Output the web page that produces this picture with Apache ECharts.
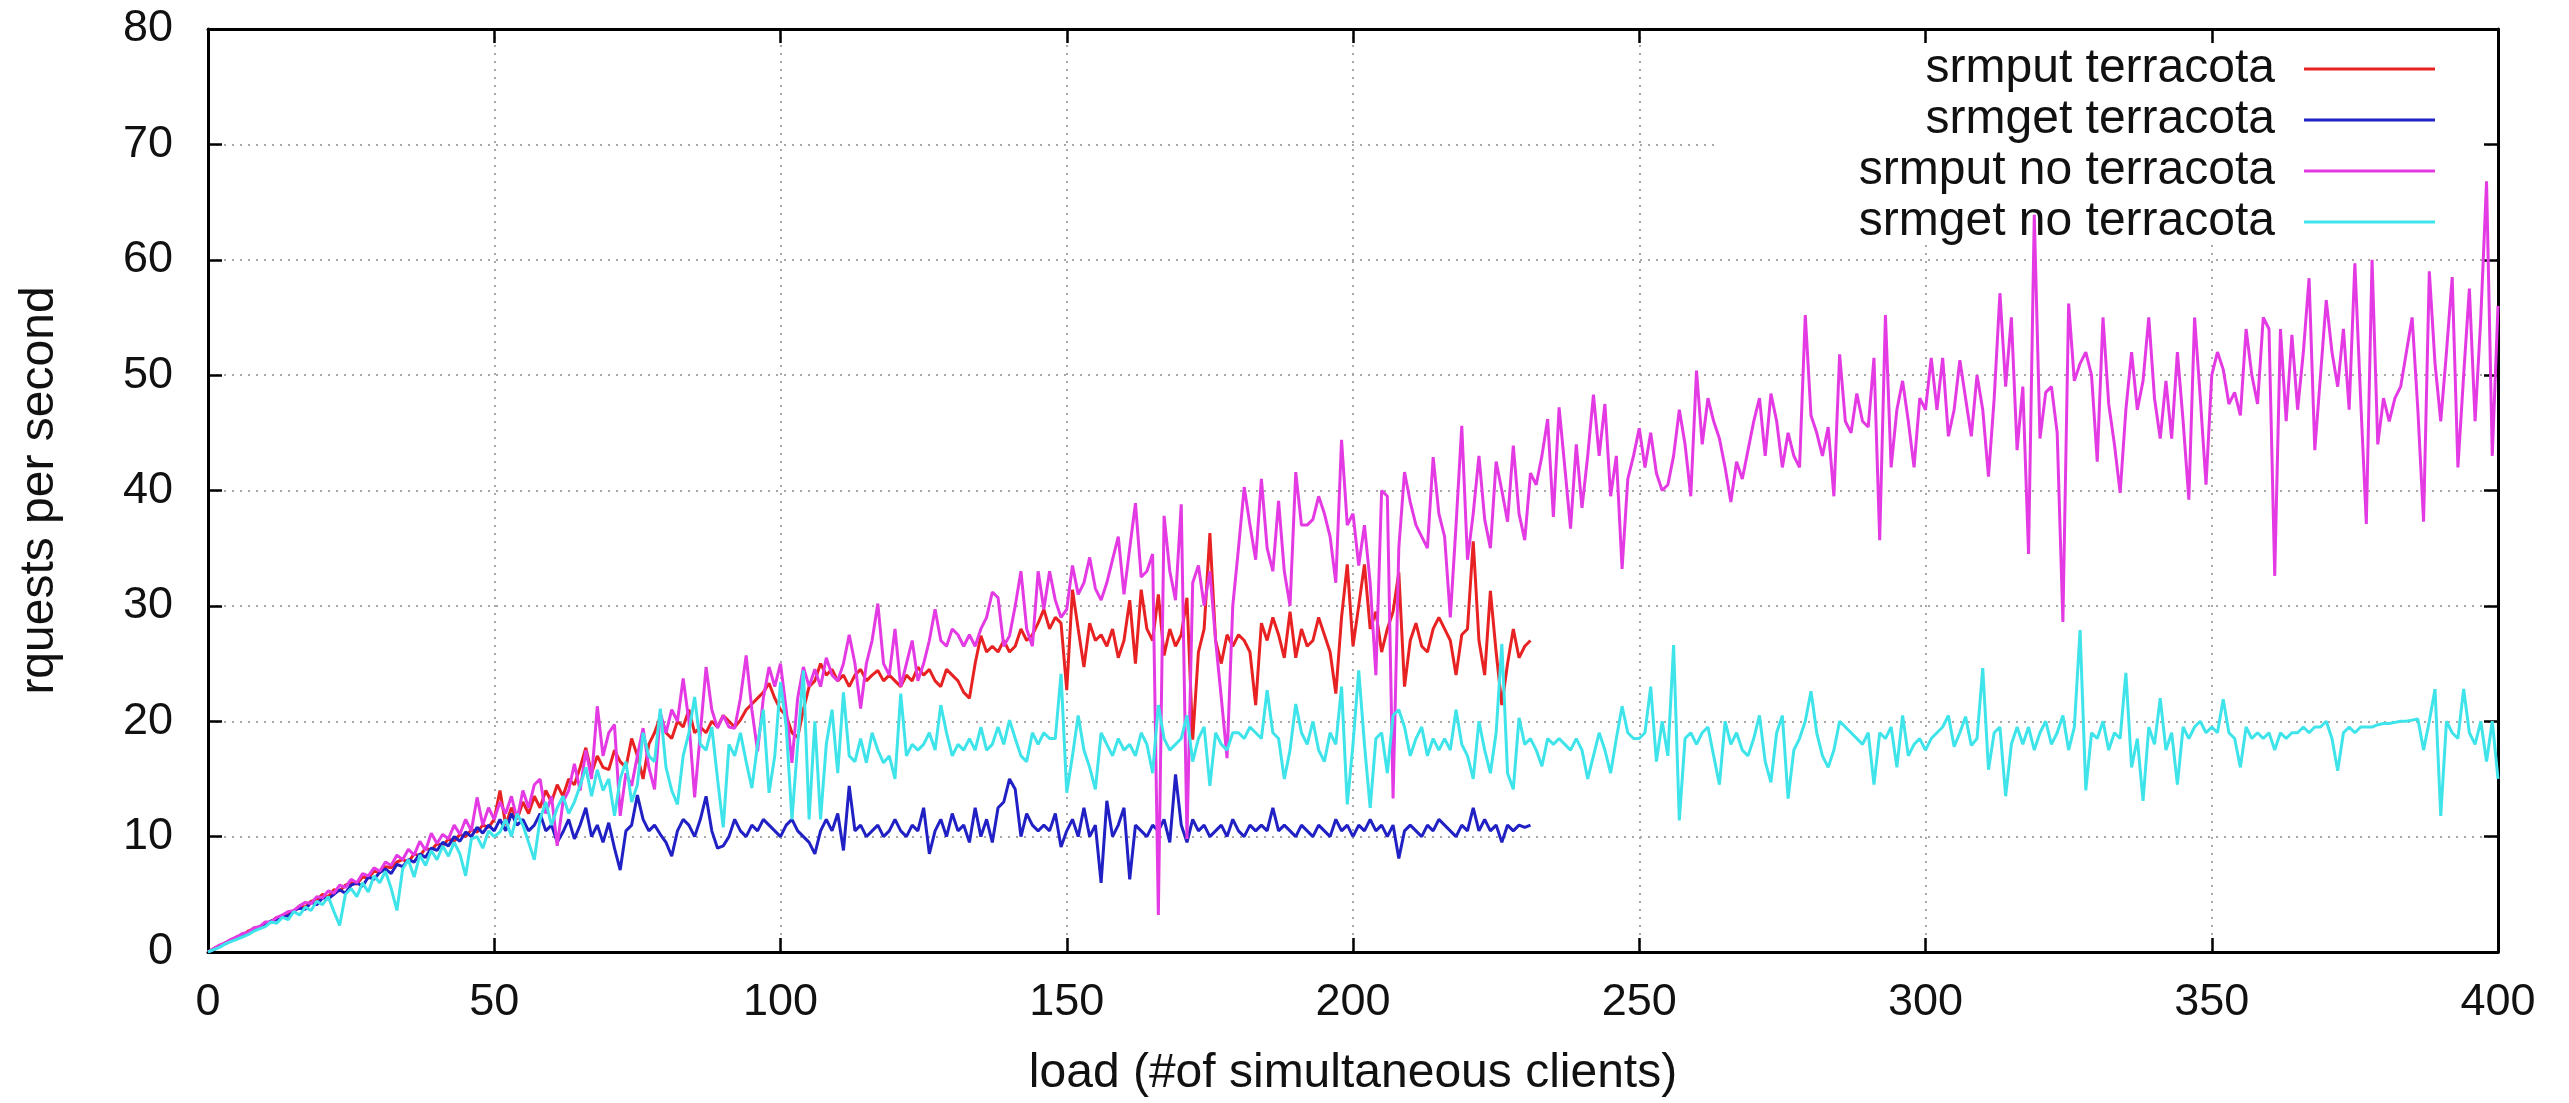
<!DOCTYPE html>
<html>
<head>
<meta charset="utf-8">
<script src="https://cdn.jsdelivr.net/npm/echarts@6/dist/echarts.min.js"></script>
<style>
  html, body { margin: 0; padding: 0; background: #fff; }
  #chart { width: 2569px; height: 1103px; }
</style>
</head>
<body>
<div id="chart"></div>
<script>
// requests per second, one value per load step (load = index)
const putTerracota = [
  0, 0.3, 0.5, 0.8, 1, 1.3, 1.4, 1.8, 2, 2.1,
  2.4, 2.6, 3, 3, 3.4, 3.5, 4, 3.9, 4.4, 4.5,
  5, 4.8, 5.4, 5.3, 5.8, 6, 5.9, 6.5, 6.4, 7,
  6.9, 7.4, 7.3, 7.8, 8, 7.8, 8.5, 8.3, 9, 8.8,
  9.4, 9.2, 9.8, 9.6, 10.2, 10, 10.6, 10.4, 11, 10.8,
  11.5, 14, 11, 12.5, 11.5, 13, 12, 13.5, 12.5, 14,
  13, 14.5, 13.5, 15, 14.5, 16, 17.7, 15.5, 17, 16,
  15.8, 17.5, 16.5, 16, 18.5, 17, 15, 18, 19, 20.4,
  19, 18.5, 20, 19.5, 21, 19, 19.5, 19, 20, 19.5,
  20.5, 20, 19.5, 20.1, 21, 21.5, 22, 22.5, 23.3, 22,
  21, 20.5, 19, 18.6, 21, 23, 23.5, 25, 24, 24.5,
  23.5, 24, 23, 24, 24.5, 23.5, 24, 24.4, 23.5, 24,
  23.5, 23, 24, 23.5, 24.7, 24, 24.5, 23.5, 23, 24.5,
  24, 23.5, 22.5, 22, 25, 27.4, 26, 26.5, 26, 27,
  26, 26.5, 28, 27, 27.5, 28.5, 29.7, 28, 29, 28.5,
  22.7, 31.4, 28, 24.7, 28.5, 27, 27.5, 26.5, 28, 25.5,
  27, 30.5, 25, 31.4, 28, 27, 31, 25.7, 28, 26.5,
  27.5, 30.7, 18.4, 26, 28, 36.3, 27, 25, 27.5, 26.5,
  27.5, 27, 26, 21.4, 28.5, 27, 29, 27.5, 25.5, 29.5,
  25.5, 28, 26.5, 27, 29, 27.5, 26, 22.4, 29, 33.6,
  26.5, 30, 33.6, 28, 29.5, 26, 28, 29.5, 32.9, 23,
  27, 28.5, 26.5, 26, 28, 29, 28, 27, 24, 27.5,
  28, 35.6, 27, 24, 31.3, 26, 21.4, 25, 28, 25.5,
  26.5, 27
];

const getTerracota = [
  0, 0.2, 0.5, 0.7, 1, 1.2, 1.5, 1.6, 2, 2.2,
  2.3, 2.7, 2.8, 3.2, 3.1, 3.6, 3.8, 3.7, 4.3, 4.1,
  4.7, 4.6, 5, 5.4, 5.1, 5.8, 6, 5.7, 6.5, 6.3,
  6.9, 7.2, 6.8, 7.6, 7.4, 8, 7.8, 8.5, 8.2, 9,
  8.8, 9.5, 9.2, 10, 9.6, 10.4, 10, 10.8, 10.3, 11,
  10.5, 11.5, 10.5, 12, 11, 11.5, 10.5, 11, 12, 10.5,
  11, 9.5, 10.4, 11.5, 9.8, 11, 12.5, 10, 11, 9.5,
  11.2, 9, 7.1, 10.5, 11, 13.6, 11.5, 10.5, 11, 10.2,
  9.5, 8.3, 10.5, 11.5, 11, 10, 11.5, 13.5, 10.5, 9,
  9.2, 10, 11.5, 10.5, 10, 11, 10.5, 11.5, 11, 10.5,
  10, 11, 11.5, 10.5, 10, 9.5, 8.5, 10.5, 11.5, 10.5,
  12, 8.8, 14.4, 10.5, 11, 10, 10.5, 11, 10, 10.5,
  11.5, 10.5, 10, 11, 10.5, 12.5, 8.5, 10.5, 11.5, 10,
  12, 10.5, 11, 9.5, 12.5, 10, 11.5, 9.5, 12.5, 13,
  15, 14.1, 10, 12, 11, 10.5, 11, 10.5, 12, 9.1,
  10.5, 11.5, 10, 12.5, 10, 11, 6, 13.1, 10, 11,
  12.5, 6.3, 11, 10.5, 10, 11, 10.5, 11.5, 9.5, 15.4,
  11, 9.5, 11.5, 10.5, 11, 10, 10.5, 11, 10, 11.5,
  10.5, 10, 11, 10.5, 11, 10.5, 12.5, 10.5, 11, 10.5,
  10, 11, 10.5, 10, 11, 10.5, 10, 11.5, 10.5, 11,
  10, 11, 10.5, 11.5, 10.5, 11, 10, 11, 8.1, 10.5,
  11, 10.5, 10, 11, 10.5, 11.5, 11, 10.5, 10, 11,
  10.5, 12.5, 10.5, 11.5, 10.5, 11, 9.5, 11, 10.5, 11,
  10.8, 11
];

const putNoTerracota = [
  0, 0.3, 0.6, 0.8, 1.1, 1.3, 1.6, 1.7, 2.1, 2.2,
  2.6, 2.6, 3, 3.2, 3.5, 3.6, 4, 4.3, 4.2, 4.8,
  4.7, 5.3, 5.1, 5.8, 5.6, 6.3, 6, 6.8, 6.6, 7.3,
  7, 7.8, 7.5, 8.4, 8, 8.9, 8.4, 9.6, 8.8, 10.3,
  9.4, 10.2, 9.8, 11, 10.2, 11.5, 10.5, 13.4, 11, 12.5,
  11.5, 13, 12, 13.5, 11.5, 14, 12.5, 14.5, 15, 12,
  13.5, 9.2, 13, 14, 16.3, 14, 17.5, 15, 21.3, 17,
  19, 19.7, 11.8, 15.5, 14.4, 17, 19.4, 16, 14.1, 20.7,
  19, 21, 20, 23.7, 20, 13.4, 19, 24.7, 21, 19.4,
  20.5, 19.5, 19.4, 22, 25.7, 21, 17.4, 22, 24.7, 23,
  25, 21, 16.4, 22, 24.7, 23, 24.5, 23, 25.5, 24,
  23.5, 25, 27.5, 25, 21.1, 25, 27, 30.2, 25, 24,
  28, 23, 25, 27, 23.5, 25, 27, 29.7, 27, 26.5,
  28, 27.5, 26.5, 27.5, 26.5, 28, 29, 31.2, 30.7, 26.5,
  27.4, 30, 33, 28, 26.5, 33, 29.7, 33, 30.5, 29,
  29.7, 33.5, 31, 32, 34.2, 31.5, 30.5, 32, 34, 36,
  31, 35, 38.9, 32.5, 33, 34.5, 3.2, 37.8, 33, 30.5,
  38.8, 9.8, 32, 33.5, 30, 33, 27, 22, 16.8, 30,
  35, 40.3, 37, 34, 41, 35, 33, 39.1, 33, 30,
  41.6, 37, 37, 37.5, 39.5, 38, 36, 32, 44.4, 37,
  38, 33.5, 37, 32, 24, 40, 39.5, 13.3, 35, 41.6,
  39, 37, 36, 35, 42.9, 38, 36, 29, 37, 45.6,
  34, 38, 43, 37.5, 35, 42.5, 40, 37.3, 43.9, 38,
  35.7, 41.5, 40.5, 43, 46.2, 37.7, 47.2, 42, 36.7, 44,
  38.5, 43, 48.3, 43, 47.5, 39.5, 43, 33.2, 41, 43,
  45.4, 42, 45, 41.5, 40, 40.5, 43, 47, 44, 39.5,
  50.4, 44, 48, 46, 44.5, 42, 39, 42.5, 41, 43.5,
  46, 48, 43, 48.4, 46, 42, 45, 43, 42, 55.2,
  46.5, 45, 43, 45.5, 39.5, 51.8, 46, 45, 48.4, 46,
  45.5, 51.5, 35.7, 55.2, 42, 47, 49.5, 46, 42, 48,
  47, 51.5, 47, 51.5, 44.7, 47, 51.3, 48, 44.7, 50,
  47, 41.2, 48, 57.1, 49, 55, 43.5, 49, 34.5, 63.9,
  44.5, 48.5, 49, 45, 28.6, 56.2, 49.5, 51, 52, 50,
  42.5, 55, 47.5, 44, 39.8, 47, 52, 47, 49.5, 55,
  48, 44.5, 49.5, 44.5, 52, 46, 39.2, 55, 48, 40.5,
  50, 52, 50.5, 47.5, 48.5, 46.5, 54, 50, 47.5, 55,
  54, 32.6, 54, 46, 53.5, 47, 52, 58.4, 43.5, 50,
  56.5, 52, 49, 54, 47, 59.7, 48, 37.1, 60, 44,
  48, 46, 48, 49, 52, 55, 47, 37.3, 59, 51,
  46, 52, 58.5, 42, 50, 57.5, 46, 55, 66.8, 43,
  56
];

const getNoTerracota = [
  0, 0.2, 0.4, 0.7, 0.9, 1.1, 1.3, 1.5, 1.8, 2,
  2.2, 2.6, 2.5, 3, 2.8, 3.5, 3.2, 3.9, 3.6, 4.4,
  4.1, 4.8, 3.5, 2.3, 5, 5.5, 4.8, 6, 5.2, 6.6,
  6, 7, 5.5, 3.6, 7.2, 8, 6.5, 8.4, 7.5, 8.8,
  8, 9.2, 8.3, 9.5, 8.5, 6.6, 9.8, 10, 9, 10.5,
  10, 10.4, 11.5, 10, 12, 11, 9.5, 8, 11.5, 13,
  11, 12.5, 13.5, 12, 13, 14.4, 16, 13.5, 15.8, 14,
  15, 11.8, 15, 16.5, 13, 14.5, 19, 17, 16.5, 21.1,
  16, 14, 12.8, 17, 19, 22.1, 18, 17.5, 19.5, 15,
  10.8, 18, 17, 19, 16.5, 14.2, 18, 21, 13.8, 17,
  23.4, 19.5, 11.5, 18, 24.4, 11.5, 20, 11.5, 18, 21,
  15.5, 22.5, 17, 16.5, 18.5, 16.4, 19, 17.5, 16.4, 17,
  15, 22.4, 17, 18, 17.5, 18, 19, 17.5, 21.4, 19,
  17, 18, 17.5, 18.5, 17.5, 19.5, 17.5, 18, 19.5, 18,
  20.1, 18.5, 17, 16.5, 19, 18, 19, 18.5, 18.5, 24.1,
  13.8, 17, 20.5, 17.5, 16, 14.1, 19, 18, 17, 18.5,
  17.5, 18, 17, 19, 18, 15.5, 21.4, 18.5, 17.5, 18,
  18.5, 20.5, 16.5, 18.5, 19.5, 14.4, 19, 18, 17.5, 19,
  19, 18.5, 19.5, 19, 18.5, 22.7, 19, 18.5, 15, 17.5,
  21.5, 19, 18, 20, 17.5, 16.5, 19, 18, 23, 12.8,
  18, 24.4, 18, 12.5, 18.5, 19, 15.5, 20.5, 21, 19.5,
  17, 18.5, 19.5, 17, 18.5, 17.5, 18.5, 17.5, 21, 18,
  17, 15, 20, 17.5, 15.5, 19, 26.7, 15.5, 14.1, 20.3,
  18, 18.5, 17.5, 16.1, 18.5, 18, 18.5, 18, 17.5, 18.5,
  17.5, 15, 17, 19, 17.5, 15.5, 18.5, 21.3, 19, 18.5,
  18.5, 19, 23, 16.5, 20, 17, 26.6, 11.4, 18.5, 19,
  18, 19, 19.5, 17, 14.5, 20, 18, 19, 17.5, 17,
  18.5, 20.5, 16.5, 14.7, 19, 20.5, 13.3, 17.5, 18.5, 20,
  22.6, 19, 17, 16, 17.5, 20, 19.5, 19, 18.5, 18,
  19, 14.5, 19, 18.5, 19.5, 16, 20.5, 17, 18, 18.5,
  17.5, 18.5, 19, 19.5, 20.5, 17.8, 19, 20.4, 17.9, 18.5,
  24.6, 15.8, 19, 19.5, 13.5, 18, 19.5, 18, 19.5, 17.5,
  19, 20, 18, 19, 20.5, 17.5, 19.5, 27.9, 14, 19,
  18.5, 20, 17.5, 19, 18.5, 24.2, 16, 18.5, 13.1, 19.5,
  18, 22, 17.5, 19, 14.5, 19.5, 18.5, 19.5, 20, 19,
  19.5, 19, 21.9, 19, 18.5, 16, 19.5, 18.5, 19, 18.5,
  19, 17.5, 19, 18.5, 19, 19, 19.5, 19, 19.5, 19.5,
  20, 18.5, 15.7, 19, 19.5, 19, 19.5, 19.5, 19.5, 19.7,
  19.8, 19.8, 19.9, 20, 20, 20.1, 20.2, 17.5, 20, 22.8,
  11.8, 20, 19, 18.5, 22.8, 19, 18, 20, 16.5, 20,
  15
];

const seriesNames = ['srmput terracota', 'srmget terracota', 'srmput no terracota', 'srmget no terracota'];
const seriesColors = ['#e82222', '#2020c4', '#e43ae4', '#3ee4ea'];
const loadTicks = [0, 50, 100, 150, 200, 250, 300, 350, 400];
const rateTicks = [0, 10, 20, 30, 40, 50, 60, 70, 80];

const font = 'Liberation Sans';
const tickText = { fontFamily: font, fontSize: 45, color: '#111' };
const titleText = { fontFamily: font, fontSize: 48, color: '#111' };

function toPoints(values) {
  return values.map((v, i) => [i, v]);
}

const allValues = [putTerracota, getTerracota, putNoTerracota, getNoTerracota];

const chart = echarts.init(document.getElementById('chart'), null, { renderer: 'canvas' });

const frameLine = { show: true, onZero: false, lineStyle: { color: '#000', width: 3 } };
const tickIn = { show: true, inside: true, length: 14, lineStyle: { color: '#000', width: 2.5 } };
const gridDots = { show: true, lineStyle: { color: '#a8a8a8', width: 2, type: [2, 6] } };

const xRange = { min: loadTicks[0], max: loadTicks[loadTicks.length - 1], interval: loadTicks[1] - loadTicks[0] };
const yRange = { min: rateTicks[0], max: rateTicks[rateTicks.length - 1], interval: rateTicks[1] - rateTicks[0] };

chart.setOption({
  animation: false,
  backgroundColor: '#fff',
  grid: { left: 208, right: 71, top: 29, bottom: 150, show: false },
  xAxis: [{
    type: 'value', position: 'bottom', ...xRange,
    axisLine: frameLine,
    axisTick: tickIn,
    axisLabel: { ...tickText, margin: 28 },
    splitLine: gridDots,
    name: 'load (#of simultaneous clients)',
    nameLocation: 'middle',
    nameGap: 98,
    nameTextStyle: titleText
  }, {
    type: 'value', position: 'top', ...xRange,
    axisLine: frameLine,
    axisTick: tickIn,
    axisLabel: { show: false },
    splitLine: { show: false }
  }],
  yAxis: [{
    type: 'value', position: 'left', ...yRange,
    axisLine: frameLine,
    axisTick: tickIn,
    axisLabel: { ...tickText, margin: 35 },
    splitLine: gridDots,
    name: 'rquests per second',
    nameLocation: 'middle',
    nameGap: 144,
    nameRotate: 90,
    nameTextStyle: titleText
  }, {
    type: 'value', position: 'right', ...yRange,
    axisLine: frameLine,
    axisTick: tickIn,
    axisLabel: { show: false },
    splitLine: { show: false }
  }],
  // blank key area, like gnuplot's key box over the grid
  graphic: [{
    type: 'rect', z: 1, silent: true,
    shape: { x: 1720, y: 45, width: 764, height: 198 },
    style: { fill: '#fff' }
  }],
  legend: {
    orient: 'vertical',
    right: 129,
    top: 40,
    align: 'right',
    icon: 'rect',
    itemWidth: 131,
    itemHeight: 3,
    itemGap: 3,
    selectedMode: false,
    textStyle: { ...titleText, lineHeight: 46, padding: [0, 24, 0, 0] },
    data: seriesNames
  },
  series: allValues.map((vals, k) => ({
    name: seriesNames[k],
    type: 'line',
    data: toPoints(vals),
    symbol: 'none',
    color: seriesColors[k],
    lineStyle: { color: seriesColors[k], width: 3 },
    z: 2
  }))
});
</script>
</body>
</html>
